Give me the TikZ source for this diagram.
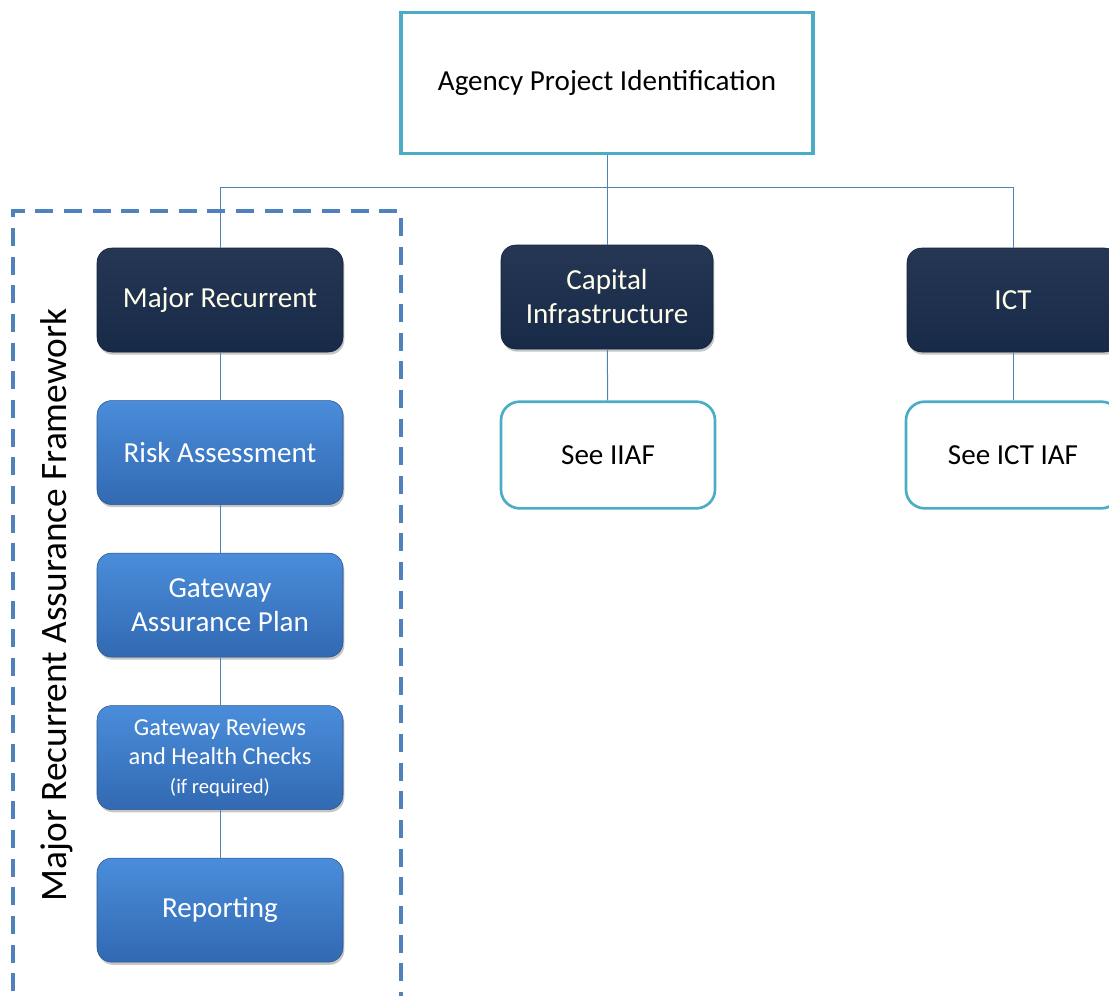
\documentclass[tikz,border=0pt]{standalone}
\usepackage{fontspec}
\setmainfont{Carlito}
\usepackage{tikz}
\usetikzlibrary{positioning}
\usetikzlibrary{shadows}
\usetikzlibrary{calc}
\definecolor{navy}{HTML}{172A48}
\definecolor{teal}{HTML}{4BACC6}
\definecolor{linkblue}{HTML}{4F81BD}
\definecolor{boxtop}{HTML}{4A8DDA}
\definecolor{boxbot}{HTML}{3269B2}
\tikzstyle{navybox}=[rounded corners=11pt,top color=navy!94!white,bottom color=navy,draw=navy!80!black,
  text=white!92!yellow,minimum width=184.5pt,minimum height=78pt,align=center,font=\fontsize{21.8}{25.5}\selectfont,
  drop shadow={opacity=0.45,shadow xshift=1pt,shadow yshift=-2pt}]
\tikzstyle{stepbox}=[navybox,top color=boxtop,bottom color=boxbot,draw=boxbot!80!black,text=white]

\begin{document}
\begin{tikzpicture}[
  x=0.75pt,y=-0.75pt,
  link/.style={draw=linkblue,line width=0.75pt},
  topbox/.style={draw=teal,line width=2.4pt,minimum width=309pt,minimum height=105.75pt,font=\fontsize{21.8}{25.5}\selectfont},
  seebox/.style={draw=teal,line width=2pt,rounded corners=14pt,minimum width=160.5pt,minimum height=80pt,font=\fontsize{21.8}{25.5}\selectfont},
  frame/.style={draw=linkblue,line width=2.5pt,dash pattern=on 13.5pt off 8pt},
  node distance=36pt,
]
\useasboundingbox (0,0) rectangle (1109,995);
\clip (0,0) rectangle (1109,995);

\node[topbox] (agency) at (607,83) {Agency Project Identification};
\coordinate (bar) at (607,187);

\node[navybox] (major) at (220,300) {Major Recurrent};
\node[navybox,minimum width=159pt] (capital) at (607,297) {Capital\\Infrastructure};
\node[navybox,minimum width=159pt] (ict) at (1013,300) {ICT};

\node[seebox] (iiaf) at (608,455) {See IIAF};
\node[seebox] (ictiaf) at (1013,455) {See ICT IAF};

% major recurrent column
\node[stepbox,below=of major] (risk) {Risk Assessment};
\node[stepbox,below=of risk] (plan) {Gateway\\Assurance Plan};
\node[stepbox,below=of plan,font=\fontsize{18.3}{21.75}\selectfont] (reviews) {Gateway Reviews\\and Health Checks\\{\fontsize{15.5}{17}\selectfont (if required)}};
\node[stepbox,below=of reviews] (report) {Reporting};

\draw[frame] (13,1020) |- (401,211) -- (401,1020);
\node[rotate=90,font=\fontsize{28}{32}\selectfont] (mraf) at (57,605) {Major Recurrent Assurance Framework};

\draw[link] (agency) -- (bar);
\draw[link] (bar) -| (major.north);
\draw[link] (bar) -| (ict.north);
\draw[link] (bar) -- (capital);
\draw[link] (capital) -- (iiaf);
\draw[link] (ict) -- (ictiaf);
\draw[link] (major) -- (risk);
\draw[link] (risk) -- (plan);
\draw[link] (plan) -- (reviews);
\draw[link] (reviews) -- (report);
\end{tikzpicture}
\end{document}
